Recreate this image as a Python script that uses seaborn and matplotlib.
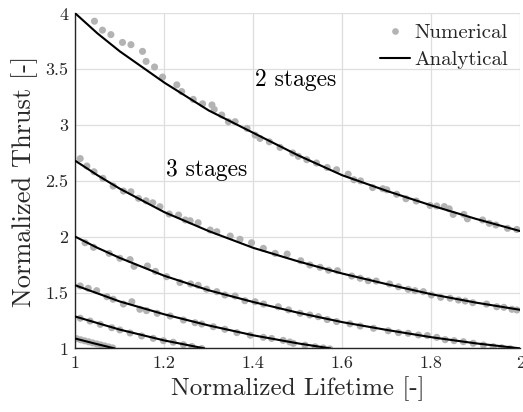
import matplotlib
matplotlib.use("Agg")
import matplotlib.pyplot as plt
import numpy as np
import pandas as pd
import seaborn as sns
from matplotlib.lines import Line2D
from matplotlib.ticker import FuncFormatter, MultipleLocator

# ---- Analytical curves (normalized lifetime -> normalized thrust) ----
life_2 = [1.0, 1.05, 1.1, 1.2, 1.3, 1.4, 1.5, 1.6, 1.7, 1.8, 1.9, 2.0]
thr_2 = [4.00, 3.82, 3.66, 3.38, 3.13, 2.93, 2.73, 2.55, 2.41, 2.28, 2.16, 2.05]

life_3 = [1.0, 1.05, 1.1, 1.2, 1.3, 1.4, 1.5, 1.6, 1.7, 1.8, 1.9, 2.0]
thr_3 = [2.68, 2.55, 2.43, 2.22, 2.05, 1.90, 1.78, 1.67, 1.575, 1.485, 1.41, 1.345]

life_4 = [1.0, 1.05, 1.1, 1.2, 1.3, 1.4, 1.5, 1.6, 1.7, 1.8, 1.9, 2.0]
thr_4 = [2.00, 1.90, 1.81, 1.65, 1.52, 1.415, 1.32, 1.235, 1.165, 1.10, 1.045, 1.0]

life_5 = [1.0, 1.1, 1.2, 1.3, 1.4, 1.5, 1.573]
thr_5 = [1.565, 1.42, 1.305, 1.205, 1.117, 1.045, 1.0]

life_6 = [1.0, 1.1, 1.2, 1.29]
thr_6 = [1.285, 1.168, 1.071, 1.0]

life_7 = [1.0, 1.044, 1.088]
thr_7 = [1.088, 1.043, 1.0]

# ---- Numerical results ----
num_life_2 = [1.043, 1.061, 1.080, 1.106, 1.125, 1.151, 1.159, 1.178, 1.196, 1.228,
              1.239, 1.265, 1.286, 1.307, 1.312, 1.329, 1.344, 1.359, 1.386, 1.404,
              1.415, 1.436, 1.460, 1.4885, 1.501, 1.520, 1.542, 1.566, 1.587, 1.613,
              1.626, 1.641, 1.668, 1.691, 1.700, 1.722, 1.743, 1.766, 1.797, 1.812,
              1.829, 1.840, 1.849, 1.873, 1.881, 1.915, 1.930, 1.945, 1.971, 1.992]
num_thr_2 = [3.93, 3.85, 3.81, 3.74, 3.72, 3.66, 3.57, 3.52, 3.43, 3.36,
             3.30, 3.23, 3.19, 3.18, 3.14, 3.09, 3.03, 3.03, 2.97, 2.91,
             2.88, 2.85, 2.80, 2.75, 2.72, 2.69, 2.66, 2.62, 2.60, 2.56,
             2.51, 2.50, 2.44, 2.43, 2.42, 2.38, 2.34, 2.32, 2.28, 2.275,
             2.27, 2.25, 2.20, 2.20, 2.16, 2.15, 2.12, 2.105, 2.075, 2.065]

num_life_3 = [1.011, 1.026, 1.042, 1.062, 1.085, 1.108, 1.125, 1.142, 1.159, 1.174,
              1.190, 1.211, 1.232, 1.247, 1.258, 1.276, 1.303, 1.318, 1.348, 1.370,
              1.396, 1.4225, 1.449, 1.476, 1.5065, 1.527, 1.550, 1.569, 1.589, 1.621,
              1.640, 1.658, 1.676, 1.706, 1.726, 1.748, 1.763, 1.782, 1.800, 1.821,
              1.842, 1.861, 1.876, 1.893, 1.924, 1.947, 1.963, 1.981, 1.992]
num_thr_3 = [2.70, 2.633, 2.582, 2.523, 2.454, 2.409, 2.403, 2.344, 2.322, 2.304,
             2.269, 2.203, 2.194, 2.15, 2.143, 2.125, 2.06, 2.045, 2.006, 1.977,
             1.946, 1.896, 1.851, 1.845, 1.785, 1.747, 1.726, 1.70, 1.696, 1.648,
             1.628, 1.606, 1.603, 1.577, 1.552, 1.529, 1.517, 1.508, 1.478, 1.457,
             1.449, 1.433, 1.424, 1.409, 1.397, 1.373, 1.368, 1.35, 1.344]

num_life_4 = [1.022, 1.041, 1.076, 1.100, 1.123, 1.132, 1.162, 1.180, 1.205, 1.235,
              1.259, 1.276, 1.295, 1.318, 1.336, 1.359, 1.381, 1.404, 1.423, 1.456,
              1.479, 1.505, 1.527, 1.546, 1.566, 1.587, 1.617, 1.640, 1.670, 1.703,
              1.726, 1.748, 1.771, 1.791, 1.812, 1.831, 1.851, 1.872, 1.894, 1.917,
              1.939, 1.958, 1.977]
num_thr_4 = [1.946, 1.905, 1.851, 1.807, 1.795, 1.735, 1.738, 1.69, 1.642, 1.59,
             1.577, 1.565, 1.53, 1.508, 1.478, 1.469, 1.427, 1.418, 1.397, 1.373,
             1.345, 1.314, 1.299, 1.284, 1.258, 1.24, 1.22, 1.20, 1.18, 1.158,
             1.141, 1.135, 1.12, 1.115, 1.099, 1.078, 1.069, 1.06, 1.046, 1.03,
             1.015, 1.006, 0.997]

num_life_5 = [1.011, 1.029, 1.048, 1.071, 1.085, 1.108, 1.127, 1.145, 1.160, 1.184,
              1.213, 1.243, 1.269, 1.284, 1.310, 1.336, 1.363, 1.393, 1.4225, 1.441,
              1.467, 1.482, 1.490, 1.516, 1.539, 1.557, 1.572]
num_thr_5 = [1.559, 1.538, 1.517, 1.463, 1.44, 1.397, 1.418, 1.35, 1.338, 1.314,
             1.29, 1.254, 1.23, 1.218, 1.194, 1.171, 1.141, 1.118, 1.099, 1.089,
             1.072, 1.057, 1.045, 1.029, 1.014, 1.004, 0.995]

num_life_6 = [1.011, 1.033, 1.056, 1.082, 1.100, 1.123, 1.149, 1.175, 1.198, 1.220,
              1.243, 1.262, 1.284]
num_thr_6 = [1.27, 1.245, 1.215, 1.185, 1.165, 1.138, 1.111, 1.09, 1.069, 1.055,
             1.033, 1.017, 0.998]

num_life_7 = [1.003, 1.012, 1.021, 1.030, 1.039, 1.048, 1.057, 1.066, 1.075, 1.084]
num_thr_7 = [1.087, 1.077, 1.068, 1.059, 1.049, 1.040, 1.031, 1.022, 1.013, 1.004]

stage_counts = [2, 3, 4, 5, 6, 7]
analytical = [(life_2, thr_2), (life_3, thr_3), (life_4, thr_4),
              (life_5, thr_5), (life_6, thr_6), (life_7, thr_7)]
numerical = [(num_life_2, num_thr_2), (num_life_3, num_thr_3), (num_life_4, num_thr_4),
             (num_life_5, num_thr_5), (num_life_6, num_thr_6), (num_life_7, num_thr_7)]

df_a = pd.concat([pd.DataFrame({"lifetime": x, "thrust": y, "stages": n})
                  for n, (x, y) in zip(stage_counts, analytical)], ignore_index=True)
df_n = pd.concat([pd.DataFrame({"lifetime": x, "thrust": y, "stages": n})
                  for n, (x, y) in zip(stage_counts, numerical)], ignore_index=True)

sns.set_theme(style="whitegrid")
plt.rcParams["font.family"] = ["cmr10", "DejaVu Serif"]
plt.rcParams["mathtext.fontset"] = "cm"
plt.rcParams["axes.formatter.use_mathtext"] = True

fig = plt.figure(figsize=(5.23, 4.12), dpi=100)
ax = fig.add_axes([0.144, 0.1544, 0.851, 0.8131])

dot_gray = "#b3b3b3"
sns.scatterplot(data=df_n, x="lifetime", y="thrust", color=dot_gray, s=26,
                edgecolor="none", linewidth=0, legend=False, ax=ax, zorder=2)
sns.lineplot(data=df_a, x="lifetime", y="thrust", hue="stages",
             palette=["black"] * len(stage_counts), estimator=None, sort=True,
             linewidth=1.5, legend=False, ax=ax, zorder=3)

ax.set_xlim(1, 2)
ax.set_ylim(1, 4)
ax.xaxis.set_major_locator(MultipleLocator(0.2))
ax.yaxis.set_major_locator(MultipleLocator(0.5))
fmt = FuncFormatter(lambda v, _: f"{v:g}")
ax.xaxis.set_major_formatter(fmt)
ax.yaxis.set_major_formatter(fmt)

ax.set_facecolor("white")
ax.grid(True, color="#dedede", linewidth=0.9)
for side in ("top", "right"):
    ax.spines[side].set_visible(False)
for side in ("left", "bottom"):
    ax.spines[side].set_color("#262626")
    ax.spines[side].set_linewidth(1.0)
ax.tick_params(axis="both", direction="in", length=4, width=0.9, color="#262626",
               labelsize=13, labelcolor="#262626", pad=5)

ax.set_xlabel("Normalized Lifetime [-]", fontsize=18, color="#262626", labelpad=4)
ax.set_ylabel("Normalized Thrust [-]", fontsize=19, color="#262626", labelpad=5)

ax.text(1.496, 3.348, "2 stages", fontsize=17, ha="center", va="baseline", color="black")
ax.text(1.295, 2.543, "3 stages", fontsize=17, ha="center", va="baseline", color="black")

handles = [Line2D([], [], linestyle="none", marker="o", markersize=4.8,
                  markerfacecolor=dot_gray, markeredgecolor="none"),
           Line2D([], [], color="black", linewidth=1.5)]
ax.legend(handles, ["Numerical", "Analytical"], loc="upper right",
          bbox_to_anchor=(0.991, 0.995), frameon=False, fontsize=15,
          handlelength=1.45, handletextpad=0.2, labelspacing=0.4,
          borderaxespad=0.0, borderpad=0.4)

fig.savefig("out.png", dpi=100)
